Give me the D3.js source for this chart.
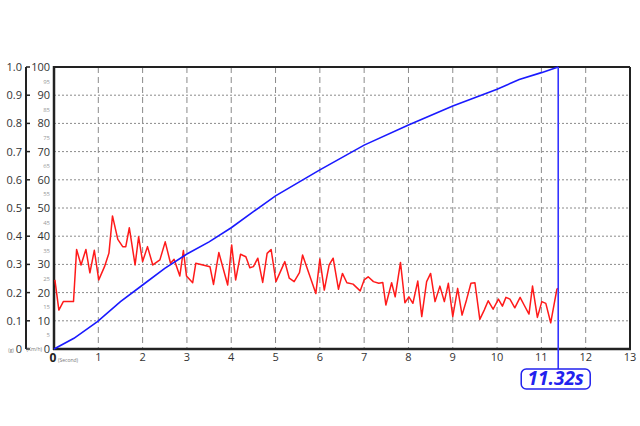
<!DOCTYPE html>
<html><head><meta charset="utf-8">
<script src="https://cdn.jsdelivr.net/npm/d3@7"></script>
<style>body{margin:0;background:#fff}svg{display:block}</style>
</head><body>
<script>
// Speed curve (km/h) vs time (s)
const speedTime = [0, 0.45, 0.98, 1.5, 2, 2.5, 3, 3.5, 4, 4.5, 5, 6, 7, 8, 9, 10, 10.5, 11, 11.38];
const speedVals = [0, 3.8, 9.7, 16.8, 22.7, 28.6, 33.7, 38.0, 43.0, 48.7, 54.3, 63.5, 72.3, 79.4, 86.2, 92.1, 95.6, 98, 100];
// Acceleration (g) vs time (s)
const accTime = [0.02,0.11,0.21,0.44,0.51,0.61,0.72,0.81,0.91,1.01,1.14,1.24,1.32,1.44,1.55,1.62,1.70,1.83,1.91,2.00,2.11,2.23,2.39,2.51,2.63,2.71,2.84,2.92,2.99,3.13,3.20,3.52,3.60,3.72,3.92,4.01,4.10,4.21,4.33,4.42,4.50,4.60,4.71,4.81,4.90,5.01,5.21,5.31,5.42,5.54,5.61,5.91,6.00,6.10,6.21,6.30,6.42,6.51,6.61,6.75,6.91,7.00,7.09,7.21,7.33,7.42,7.49,7.62,7.70,7.82,7.92,8.01,8.10,8.21,8.30,8.41,8.50,8.60,8.71,8.81,8.90,9.00,9.11,9.21,9.31,9.41,9.50,9.61,9.71,9.80,9.91,10.03,10.12,10.20,10.29,10.40,10.52,10.61,10.72,10.80,10.91,11.01,11.10,11.21,11.35,11.38];
const accVals = [0.245,0.138,0.168,0.168,0.353,0.298,0.353,0.27,0.35,0.245,0.292,0.34,0.472,0.389,0.363,0.363,0.43,0.298,0.398,0.31,0.363,0.298,0.316,0.38,0.304,0.318,0.259,0.349,0.259,0.235,0.304,0.292,0.229,0.342,0.227,0.369,0.245,0.336,0.327,0.288,0.292,0.322,0.236,0.339,0.353,0.239,0.31,0.251,0.239,0.271,0.333,0.197,0.319,0.209,0.298,0.322,0.212,0.268,0.235,0.23,0.206,0.245,0.256,0.239,0.233,0.236,0.156,0.235,0.185,0.307,0.164,0.185,0.162,0.241,0.115,0.239,0.268,0.168,0.223,0.168,0.233,0.115,0.215,0.12,0.174,0.233,0.235,0.105,0.138,0.171,0.141,0.177,0.152,0.183,0.177,0.146,0.183,0.156,0.124,0.223,0.112,0.168,0.162,0.093,0.212,0.215];
const xTicks = [0,1,2,3,4,5,6,7,8,9,10,11,12,13];
const gTicks = [0,0.1,0.2,0.3,0.4,0.5,0.6,0.7,0.8,0.9,1.0];
const speedMajor = [0,10,20,30,40,50,60,70,80,90,100];
const speedMinor = [5,15,25,35,45,55,65,75,85,95];
const finishLabel = "11.32s";
const finishTime = 11.38;

const W = 640, H = 426;
const L = 54, R = 630, T = 67, B = 349;
const svg = d3.select("body").append("svg").attr("width", W).attr("height", H)
  .style("font-family", "'Open Sans','Noto Sans',sans-serif");

const x = d3.scaleLinear().domain([0, 13]).range([L, R]);
const yS = d3.scaleLinear().domain([0, 100]).range([B, T]);
const yG = d3.scaleLinear().domain([0, 1]).range([B, T]);

// grid
svg.append("g").selectAll("line").data(speedMajor.filter(d => d > 0 && d < 100)).join("line")
  .attr("x1", L).attr("x2", R).attr("y1", d => yS(d)).attr("y2", d => yS(d))
  .attr("stroke", "#8a8a8a").attr("stroke-width", 1).attr("stroke-dasharray", "2,2");
svg.append("g").selectAll("line").data(xTicks.filter(d => d > 0 && d < 13)).join("line")
  .attr("x1", d => x(d)).attr("x2", d => x(d)).attr("y1", T).attr("y2", B)
  .attr("stroke", "#8a8a8a").attr("stroke-width", 1).attr("stroke-dasharray", "6,4");

// frame
svg.append("line").attr("x1", L).attr("x2", R).attr("y1", T).attr("y2", T).attr("stroke", "#222").attr("stroke-width", 2);
svg.append("line").attr("x1", R).attr("x2", R).attr("y1", T).attr("y2", B).attr("stroke", "#222").attr("stroke-width", 2);
svg.append("line").attr("x1", L).attr("x2", L).attr("y1", T - 1).attr("y2", B + 1).attr("stroke", "#222").attr("stroke-width", 2.5);
svg.append("line").attr("x1", L - 1).attr("x2", R + 1).attr("y1", B).attr("y2", B).attr("stroke", "#222").attr("stroke-width", 2.5);

// left g axis
const gAxis = svg.append("g");
gAxis.append("line").attr("x1", 26).attr("x2", 26).attr("y1", T).attr("y2", B).attr("stroke", "#222").attr("stroke-width", 2);
gAxis.selectAll("line.t").data(gTicks).join("line").attr("class", "t")
  .attr("x1", 26).attr("x2", 30).attr("y1", d => yG(d)).attr("y2", d => yG(d)).attr("stroke", "#222").attr("stroke-width", 1.5);
gAxis.selectAll("text").data(gTicks).join("text")
  .attr("x", 22).attr("y", d => yG(d) + 4).attr("text-anchor", "end")
  .attr("font-size", 11).attr("fill", "#333")
  .text(d => d === 0 ? "0" : d.toFixed(1));
svg.append("text").attr("x", 11).attr("y", B + 3).attr("text-anchor", "middle").attr("font-size", 5).attr("fill", "#777").text("(g)");

// speed axis labels
svg.append("g").selectAll("text").data(speedMajor).join("text")
  .attr("x", 50).attr("y", d => yS(d) + 4).attr("text-anchor", "end")
  .attr("font-size", 11).attr("fill", "#333").text(d => d);
svg.append("g").selectAll("text").data(speedMinor).join("text")
  .attr("x", 50).attr("y", d => yS(d) + 2.5).attr("text-anchor", "end")
  .attr("font-size", 6).attr("fill", "#999").text(d => d);
svg.append("text").attr("x", 42).attr("y", B + 2).attr("text-anchor", "end").attr("font-size", 5).attr("fill", "#777").text("(Km/h)");

// x axis labels
svg.append("g").selectAll("text").data(xTicks.filter(d => d > 0)).join("text")
  .attr("x", d => x(d)).attr("y", B + 12).attr("text-anchor", "middle")
  .attr("font-size", 11).attr("fill", "#333").text(d => d);
svg.append("text").attr("x", x(0) - 1).attr("y", B + 13).attr("text-anchor", "middle")
  .attr("font-size", 12).attr("font-weight", "bold").attr("fill", "#222").text("0");
svg.append("text").attr("x", x(0) + 4).attr("y", B + 13).attr("font-size", 5).attr("fill", "#777").text("(Second)");

// lines
svg.append("path").datum(accTime.map((t, i) => [t, accVals[i]]))
  .attr("d", d3.line().x(d => x(d[0])).y(d => yG(d[1])))
  .attr("fill", "none").attr("stroke", "#ff1a1a").attr("stroke-width", 1.5).attr("stroke-linejoin", "round");
svg.append("path").datum(speedTime.map((t, i) => [t, speedVals[i]]))
  .attr("d", d3.line().x(d => x(d[0])).y(d => yS(d[1])))
  .attr("fill", "none").attr("stroke", "#1a1aff").attr("stroke-width", 1.6);

// finish marker
const fx = x(finishTime);
svg.append("line").attr("x1", fx).attr("x2", fx).attr("y1", T).attr("y2", 369)
  .attr("stroke", "#3333ff").attr("stroke-width", 1.6);
svg.append("rect").attr("x", fx - 37).attr("y", 369).attr("width", 69).attr("height", 20).attr("rx", 5)
  .attr("fill", "#fff").attr("stroke", "#2222ee").attr("stroke-width", 1.5);
svg.append("text").attr("x", fx - 2.5).attr("y", 385).attr("text-anchor", "middle")
  .attr("font-size", 19).attr("font-weight", "bold").attr("font-style", "italic").attr("fill", "#2222ee")
  .text(finishLabel);
</script>
</body></html>
